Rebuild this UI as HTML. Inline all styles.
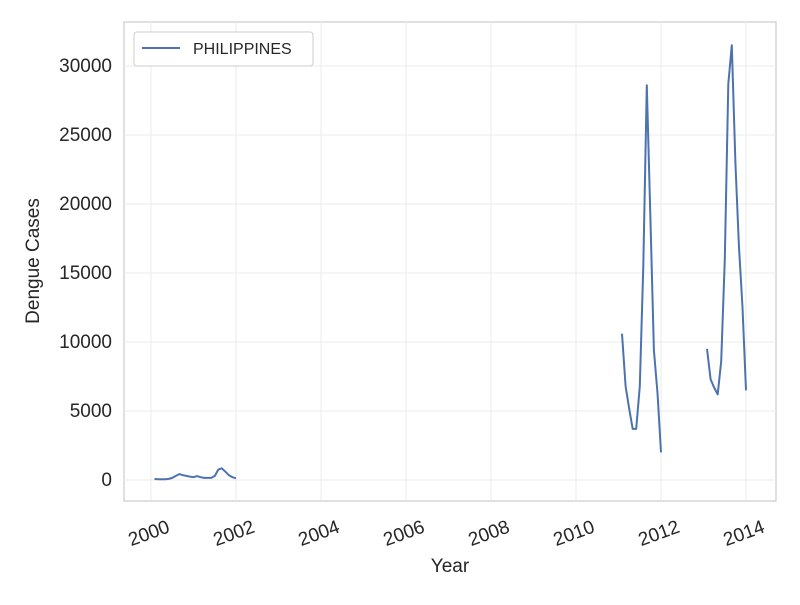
<!DOCTYPE html>
<html><head><meta charset="utf-8"><style>
body{margin:0;background:#fff;}
svg{font-family:"Liberation Sans",sans-serif;}
</style></head><body>
<svg id="c" width="800" height="600">
<rect x="124" y="22" width="652" height="479" fill="#fff" stroke="#ccc" stroke-width="1.2"/>
<g id="grid"></g><g id="series"></g><g id="ticks"></g>
<text x="450" y="572" text-anchor="middle" font-size="19" fill="#262626">Year</text>
<text transform="translate(39,261) rotate(-90)" text-anchor="middle" font-size="19" fill="#262626">Dengue Cases</text>
<g>
<rect x="134" y="32" width="179" height="34" rx="3" fill="#fff" stroke="#ccc"/>
<line x1="142" y1="48" x2="180" y2="48" stroke="#4c72b0" stroke-width="2"/>
<text x="193" y="54" font-size="16" fill="#262626">PHILIPPINES</text>
</g>
</svg>
<script>
const years=[2000,2001,2011,2013];
const vals2000=[80,60,50,50,80,150,300,430,350,300,250,200];
const vals2001=[280,200,150,150,150,300,750,850,600,350,200,120];
const vals2011=[10600,6800,5200,3700,3700,6800,15500,28600,19000,9400,6300,2000];
const vals2013=[9500,7300,6700,6200,8600,16000,28700,31500,23000,17000,12500,6500];
const xTicks=[2000,2002,2004,2006,2008,2010,2012,2014];
const yTicks=[0,5000,10000,15000,20000,25000,30000];
const NS="http://www.w3.org/2000/svg";
const sx=v=>151+(v-2000)*42.5;
const sy=v=>480-v*0.0138;
function mk(t,a,p){const e=document.createElementNS(NS,t);for(const k in a)e.setAttribute(k,a[k]);p.appendChild(e);return e;}
const grid=document.getElementById('grid'),ticks=document.getElementById('ticks'),ser=document.getElementById('series');
xTicks.forEach(t=>{
 const g=mk('line',{x1:sx(t),x2:sx(t),y1:22,y2:501,stroke:'#ebebeb','stroke-width':1},grid);
 
 
 const tx=mk('text',{transform:`translate(${sx(t)},${539}) rotate(-20)`,'text-anchor':'middle','font-size':19,fill:'#262626'},ticks);
 tx.textContent=t;
 
 
});
yTicks.forEach(t=>{
 const g=mk('line',{x1:124,x2:776,y1:sy(t),y2:sy(t),stroke:'#ebebeb','stroke-width':1},grid);
 
 
 const tx=mk('text',{x:112,y:sy(t)+6,'text-anchor':'end','font-size':19,fill:'#262626'},ticks);
 tx.textContent=t;
 
 
});
const dataByYear={2000:vals2000,2001:vals2001,2011:vals2011,2013:vals2013};
let pts=[];
for(let y=2000;y<=2013;y++){for(let m=0;m<12;m++){const arr=dataByYear[y];pts.push([y+(m+1)/12,arr?arr[m]:null]);}}
let d='',pen=false;
pts.forEach(([x,v])=>{if(v==null){pen=false;return;}d+=(pen?'L':'M')+sx(x).toFixed(1)+','+sy(v).toFixed(1);pen=true;});
const p=mk('path',{d:d,fill:'none',stroke:'#4c72b0','stroke-width':2,'stroke-linejoin':'round'},ser);


</script>
</body></html>
